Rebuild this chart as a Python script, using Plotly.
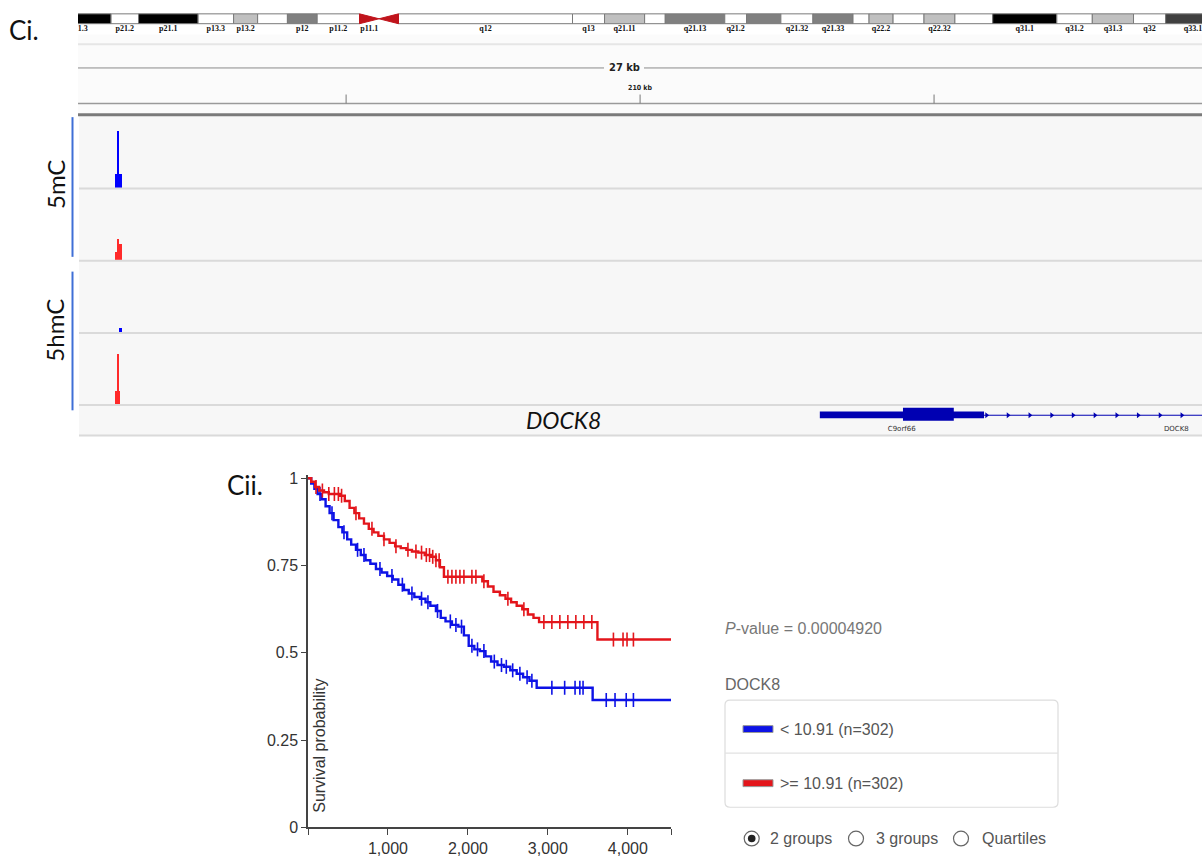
import numpy as np
import plotly.graph_objects as go

W, H = 1202, 863


def px(x):
    return x / W


def py(y):
    return 1 - y / H


# ---------------- Data ----------------
# Chromosome 9 ideogram bands (Mb)
band_names = ['p21.3', 'p21.2', 'p21.1', 'p13.3', 'p13.2', 'p13.1', 'p12', 'p11.2', 'p11.1', 'q11',
              'q12', 'q13', 'q21.11', 'q21.12', 'q21.13', 'q21.2', 'q21.31', 'q21.32', 'q21.33',
              'q22.1', 'q22.2', 'q22.31', 'q22.32', 'q22.33', 'q31.1', 'q31.2', 'q31.3', 'q32', 'q33.1']
band_start = [19.9, 25.6, 28.0, 33.2, 36.3, 38.4, 41.0, 43.6, 47.3, 49.0,
              50.7, 65.9, 68.7, 72.2, 74.0, 79.2, 81.1, 84.1, 86.9,
              90.4, 91.8, 93.9, 96.6, 99.3, 102.6, 108.2, 111.3, 114.9, 117.7]
band_end = [25.6, 28.0, 33.2, 36.3, 38.4, 41.0, 43.6, 47.3, 49.0, 50.7,
            65.9, 68.7, 72.2, 74.0, 79.2, 81.1, 84.1, 86.9, 90.4,
            91.8, 93.9, 96.6, 99.3, 102.6, 108.2, 111.3, 114.9, 117.7, 122.5]
band_stain = ['gpos100', 'gneg', 'gpos100', 'gneg', 'gpos25', 'gneg', 'gpos50', 'gneg', 'acen', 'acen',
              'gvar', 'gneg', 'gpos25', 'gneg', 'gpos50', 'gneg', 'gpos50', 'gneg', 'gpos50',
              'gneg', 'gpos25', 'gneg', 'gpos25', 'gneg', 'gpos100', 'gneg', 'gpos25', 'gneg', 'gpos75']
band_label_shown = [1, 1, 1, 1, 1, 0, 1, 1, 1, 0,
                    1, 1, 1, 0, 1, 1, 0, 1, 1,
                    0, 1, 0, 1, 0, 1, 1, 1, 1, 1]
ideogram_view_mb = [22.71, 120.88]

# Genome browser window (kb)
window_kb = [196.64, 223.38]
ruler_ticks_kb = [203, 210, 217]
ruler_span_label = '27 kb'
ruler_tick_label = '210 kb'

# Methylation signal tracks (position kb, signal)
mc5_low_pos = [197.521, 197.545, 197.569, 197.593, 197.617, 197.640]
mc5_low_val = [1.9, 1.9, 7.9, 1.8, 1.9, 1.9]
mc5_high_pos = [197.521, 197.545, 197.569, 197.593, 197.617, 197.640]
mc5_high_val = [1.2, 1.2, 3.0, 0.4, 2.3, 2.3]
hmc5_low_pos = [197.617, 197.640]
hmc5_low_val = [0.7, 0.7]
hmc5_high_pos = [197.521, 197.545, 197.569, 197.593]
hmc5_high_val = [1.8, 1.8, 7.1, 1.8]

# Gene models (kb)
gene_labels = ['C9orf66', 'DOCK8']
gene_label_pos = [216.23, 222.77]
exon_start = [214.28]
exon_end = [218.19]
cds_start = [216.26]
cds_end = [217.47]
intron_start = [218.19]
intron_end = [223.38]
strand_arrow_pos = [218.25, 218.76, 219.28, 219.80, 220.31, 220.83, 221.35, 221.86, 222.38, 222.90]

# Kaplan-Meier curves (days, survival probability)
low_t = [0, 40, 80, 120, 170, 220, 270, 320, 380, 430, 490, 540, 600, 660, 720, 780, 850, 920,
         990, 1060, 1130, 1200, 1260, 1330, 1400, 1470, 1530, 1600, 1660, 1720, 1800, 1880, 1950,
         2010, 2080, 2150, 2220, 2290, 2370, 2450, 2530, 2610, 2690, 2770, 2860, 3560, 4540]
low_s = [1.0, 0.985, 0.97, 0.955, 0.94, 0.92, 0.9, 0.88, 0.86, 0.845, 0.825, 0.81, 0.795, 0.78,
         0.765, 0.755, 0.74, 0.73, 0.72, 0.71, 0.695, 0.68, 0.67, 0.66, 0.655, 0.645, 0.635, 0.62,
         0.6, 0.59, 0.58, 0.575, 0.55, 0.52, 0.51, 0.505, 0.49, 0.475, 0.465, 0.46, 0.45, 0.44,
         0.43, 0.42, 0.40, 0.365, 0.365]
high_t = [0, 40, 90, 140, 200, 260, 330, 400, 460, 520, 580, 640, 700, 760, 820, 880, 950, 1020,
          1090, 1160, 1230, 1300, 1380, 1460, 1540, 1600, 1650, 1700, 2180, 2250, 2320, 2400, 2470,
          2540, 2610, 2680, 2750, 2820, 2890, 3620, 4540]
high_s = [1.0, 0.99, 0.975, 0.965, 0.96, 0.955, 0.955, 0.95, 0.935, 0.915, 0.9, 0.885, 0.87,
          0.855, 0.845, 0.835, 0.825, 0.815, 0.805, 0.8, 0.795, 0.79, 0.787, 0.78, 0.775, 0.765,
          0.745, 0.718, 0.705, 0.69, 0.675, 0.665, 0.655, 0.645, 0.635, 0.625, 0.61, 0.6, 0.588,
          0.538, 0.538]
low_cens = [150, 300, 450, 620, 700, 900, 1050, 1180, 1300, 1420, 1500, 1620, 1780, 1850, 1920,
            2050, 2120, 2200, 2330, 2420, 2480, 2560, 2650, 2740, 2800, 3050, 3210, 3340, 3400,
            3440, 3730, 3840, 3980, 4070]
high_cens = [100, 180, 260, 330, 380, 420, 600, 800, 950, 1100, 1250, 1350, 1420, 1480, 1520,
             1560, 1600, 1640, 1750, 1800, 1850, 1900, 1950, 2050, 2100, 2200, 2500, 2700, 2950,
             3050, 3150, 3250, 3350, 3450, 3550, 3820, 3940, 3990, 4070]
km_xticks = [0, 1000, 2000, 3000, 4000, 4540]
km_xticktext = ['', '1,000', '2,000', '3,000', '4,000', '']
km_yticks = [0, 0.25, 0.5, 0.75, 1]
km_yticktext = ['0', '0.25', '0.5', '0.75', '1']
group_names = ['< 10.91 (n=302)', '>= 10.91 (n=302)']
p_value_text = '<i>P</i>-value = 0.00004920'
gene_name = 'DOCK8'
radio_labels = ['2 groups', '3 groups', 'Quartiles']

BLUE = '#0d12e6'
RED = '#e3151b'
SANS = 'Liberation Sans, Arial, sans-serif'
CAL = 'Lato, Open Sans, sans-serif'

fig = go.Figure()
shapes = []
ann = []


def note(x, y, text, size, color='#111', family=SANS, xanchor='center', angle=0, xref='paper'):
    ann.append(dict(xref=xref, yref='paper', x=x, y=y, text=text, showarrow=False,
                    xanchor=xanchor, yanchor='middle', textangle=angle,
                    font=dict(family=family, size=size, color=color)))


# ---------------- IGV panel ----------------
track_x_dom = [px(79), 1.0]
shapes.append(dict(type='rect', xref='paper', yref='paper', x0=px(78), x1=1, y0=py(110), y1=py(30),
                   fillcolor='#fbfbfb', line=dict(width=0), layer='below'))
shapes.append(dict(type='rect', xref='paper', yref='paper', x0=px(79), x1=1, y0=py(438), y1=py(112),
                   fillcolor='#f7f7f7', line=dict(width=0), layer='below'))
shapes.append(dict(type='line', xref='paper', yref='paper', x0=px(78), x1=1, y0=py(40), y1=py(40),
                   line=dict(color='#e6e6e6', width=2)))
shapes.append(dict(type='line', xref='paper', yref='paper', x0=px(78), x1=px(604), y0=py(64), y1=py(64),
                   line=dict(color='#8a8a8a', width=1)))
shapes.append(dict(type='line', xref='paper', yref='paper', x0=px(644), x1=1, y0=py(64), y1=py(64),
                   line=dict(color='#8a8a8a', width=1)))
note(px(624), py(64), '<b>' + ruler_span_label + '</b>', 11, '#222', 'DejaVu Sans Condensed, DejaVu Sans')
shapes.append(dict(type='line', xref='paper', yref='paper', x0=px(78), x1=1, y0=py(100), y1=py(100),
                   line=dict(color='#9a9a9a', width=1.5)))
for tk in ruler_ticks_kb:
    shapes.append(dict(type='line', xref='x2', yref='paper', x0=tk, x1=tk, y0=py(100), y1=py(91),
                       line=dict(color='#777', width=1)))
note(ruler_ticks_kb[1], py(84), '<b>' + ruler_tick_label + '</b>', 7, '#222',
     'DejaVu Sans Condensed, DejaVu Sans', xref='x2')
shapes.append(dict(type='line', xref='paper', yref='paper', x0=px(78), x1=1, y0=py(111.5), y1=py(111.5),
                   line=dict(color='#7a7a7a', width=3)))
for yy in [186.5, 260, 333.5, 406.5, 437.5]:
    shapes.append(dict(type='line', xref='paper', yref='paper', x0=px(79), x1=1, y0=py(yy), y1=py(yy),
                       line=dict(color='#dadada', width=2)))
for y0, y1 in [(114, 256), (271, 412)]:
    shapes.append(dict(type='line', xref='paper', yref='paper', x0=px(72.5), x1=px(72.5), y0=py(y0), y1=py(y1),
                       line=dict(color='#3f6fd6', width=2)))
note(px(55), py(183), '5mC', 24, '#111', CAL, angle=-90)
note(px(55), py(331), '5hmC', 24, '#111', CAL, angle=-90)
note(px(24), py(25), 'Ci.', 26, '#111', CAL)
note(px(245), py(488), 'Cii.', 26, '#111', CAL)

# ideogram (axis 7)
stain_color = {'gneg': '#ffffff', 'gvar': '#ffffff', 'gpos25': '#c0c0c0', 'gpos50': '#808080',
               'gpos75': '#404040', 'gpos100': '#000000', 'acen': '#c0141c'}
b0, b1 = 0.458, 0.875
for s, e, st in zip(band_start, band_end, band_stain):
    if st == 'acen':
        continue
    shapes.append(dict(type='rect', xref='x7', yref='y7', x0=s, x1=e, y0=b0, y1=b1,
                       fillcolor=stain_color[st], line=dict(color='#7a7a7a', width=1)))
acen = [(s, e) for s, e, st in zip(band_start, band_end, band_stain) if st == 'acen']
mid = (b0 + b1) / 2
(ps, pe), (qs, qe) = acen
shapes.append(dict(type='path', xref='x7', yref='y7', path=f'M {ps},{b0} L {pe},{mid} L {ps},{b1} Z',
                   fillcolor='#c0141c', line=dict(color='#c0141c', width=1)))
shapes.append(dict(type='path', xref='x7', yref='y7', path=f'M {qe},{b0} L {qs},{mid} L {qe},{b1} Z',
                   fillcolor='#c0141c', line=dict(color='#c0141c', width=1)))
lab_x = [(s + e) / 2 for s, e, k in zip(band_start, band_end, band_label_shown) if k]
lab_t = ['<b>' + n + '</b>' for n, k in zip(band_names, band_label_shown) if k]
fig.add_trace(go.Scatter(x=lab_x, y=[0.25] * len(lab_x), text=lab_t, mode='text', xaxis='x7', yaxis='y7',
                         textfont=dict(family='Liberation Serif, serif', size=8, color='#111'),
                         cliponaxis=True, hoverinfo='skip', showlegend=False))

# methylation tracks (axes 2-5)
tracks = [(mc5_low_pos, mc5_low_val, '#0000ff', 113, 186),
          (mc5_high_pos, mc5_high_val, '#ff2a2a', 188, 259.5),
          (hmc5_low_pos, hmc5_low_val, '#0000ff', 261, 332.7),
          (hmc5_high_pos, hmc5_high_val, '#ff2a2a', 334.5, 405.7)]
bw = (window_kb[1] - window_kb[0]) / (W - 79)
for i, (pos, val, col, top, bot) in enumerate(tracks):
    k = i + 2
    fig.add_trace(go.Bar(x=pos, y=val, width=bw, marker=dict(color=col, line=dict(width=0)),
                         xaxis=f'x{k}', yaxis=f'y{k}', showlegend=False, hoverinfo='skip'))

# gene track (axis 6)
for s, e in zip(intron_start, intron_end):
    shapes.append(dict(type='line', xref='x6', yref='y6', x0=s, x1=e, y0=0.645, y1=0.645,
                       line=dict(color='#0000b2', width=1)))
for s, e in zip(exon_start, exon_end):
    shapes.append(dict(type='rect', xref='x6', yref='y6', x0=s, x1=e, y0=0.548, y1=0.765,
                       fillcolor='#0000b2', line=dict(width=0)))
for s, e in zip(cds_start, cds_end):
    shapes.append(dict(type='rect', xref='x6', yref='y6', x0=s, x1=e, y0=0.461, y1=0.894,
                       fillcolor='#0000b2', line=dict(width=0)))
fig.add_trace(go.Scatter(x=strand_arrow_pos, y=[0.645] * len(strand_arrow_pos), mode='markers',
                         marker=dict(symbol='triangle-right', size=5, color='#0000b2'),
                         xaxis='x6', yaxis='y6', showlegend=False, hoverinfo='skip'))
fig.add_trace(go.Scatter(x=gene_label_pos, y=[0.17] * 2, text=gene_labels, mode='text',
                         textfont=dict(family='DejaVu Sans', size=7, color='#333'),
                         xaxis='x6', yaxis='y6', showlegend=False, hoverinfo='skip', cliponaxis=False))
note(px(563), py(422), '<i>' + gene_name + '</i>', 23, '#111', CAL)


# ---------------- Kaplan-Meier ----------------
def surv_at(ts, ss, t):
    ts = np.asarray(ts)
    idx = np.searchsorted(ts, t, side='right') - 1
    return np.asarray(ss)[idx]


for t, s, cens, col, nm in [(low_t, low_s, low_cens, BLUE, group_names[0]),
                            (high_t, high_s, high_cens, RED, group_names[1])]:
    fig.add_trace(go.Scatter(x=t, y=s, mode='lines', line=dict(color=col, width=2.4, shape='hv'),
                             name=nm, showlegend=False, xaxis='x', yaxis='y'))
    fig.add_trace(go.Scatter(x=cens, y=surv_at(t, s, cens), mode='markers',
                             marker=dict(symbol='line-ns', size=10, line=dict(color=col, width=1.6)),
                             showlegend=False, xaxis='x', yaxis='y', hoverinfo='skip'))

note(px(320), py(753), 'Survival probability', 16, '#333', angle=-90)
note(px(723), py(634), p_value_text, 16, '#777', xanchor='left')
note(px(723), py(691), gene_name, 16, '#666', xanchor='left')

# legend box (rounded)
lx0, lx1, ly0, ly1, r = 725, 1058, 706.5, 815.5, 5
path = (f'M {px(lx0 + r)},{py(ly0)} L {px(lx1 - r)},{py(ly0)} Q {px(lx1)},{py(ly0)} {px(lx1)},{py(ly0 + r)} '
        f'L {px(lx1)},{py(ly1 - r)} Q {px(lx1)},{py(ly1)} {px(lx1 - r)},{py(ly1)} '
        f'L {px(lx0 + r)},{py(ly1)} Q {px(lx0)},{py(ly1)} {px(lx0)},{py(ly1 - r)} '
        f'L {px(lx0)},{py(ly0 + r)} Q {px(lx0)},{py(ly0)} {px(lx0 + r)},{py(ly0)} Z')
shapes.append(dict(type='path', xref='paper', yref='paper', path=path, fillcolor='white',
                   line=dict(color='#dddddd', width=1.2)))
shapes.append(dict(type='line', xref='paper', yref='paper', x0=px(lx0), x1=px(lx1), y0=py(760.5), y1=py(760.5),
                   line=dict(color='#e2e2e2', width=1.2)))
for yc, col, nm in [(736, BLUE, group_names[0]), (791, RED, group_names[1])]:
    shapes.append(dict(type='rect', xref='paper', yref='paper', x0=px(743), x1=px(773), y0=py(yc + 3.5),
                       y1=py(yc - 3.5), fillcolor=col, line=dict(color='#999', width=1)))
    note(px(778), py(yc), nm, 16, '#555', xanchor='left')

# radio buttons
for i, (cx, tx, lab) in enumerate(zip([751.7, 856, 961], [768, 874, 980], radio_labels)):
    shapes.append(dict(type='circle', xref='paper', yref='paper', x0=px(cx - 7.5), x1=px(cx + 7.5),
                       y0=py(847.3 + 7.5), y1=py(847.3 - 7.5), fillcolor='white',
                       line=dict(color='#666', width=1.2)))
    if i == 0:
        shapes.append(dict(type='circle', xref='paper', yref='paper', x0=px(cx - 3.8), x1=px(cx + 3.8),
                           y0=py(847.3 + 3.8), y1=py(847.3 - 3.8), fillcolor='#222', line=dict(width=0)))
    note(px(tx), py(847), lab, 16, '#555', xanchor='left')

# ---------------- Layout ----------------
hidden = dict(visible=False, showgrid=False, zeroline=False, fixedrange=True)
layout_axes = {}
for i, (pos, val, col, top, bot) in enumerate(tracks):
    k = i + 2
    layout_axes[f'xaxis{k}'] = dict(hidden, domain=track_x_dom, range=window_kb, anchor=f'y{k}')
    layout_axes[f'yaxis{k}'] = dict(hidden, domain=[py(bot), py(top)], range=[0, 10], anchor=f'x{k}')
layout_axes['xaxis6'] = dict(hidden, domain=track_x_dom, range=window_kb, anchor='y6')
layout_axes['yaxis6'] = dict(hidden, domain=[py(437), py(406)], range=[0, 1], anchor='x6')
layout_axes['xaxis7'] = dict(hidden, domain=[px(78), 1.0], range=ideogram_view_mb, anchor='y7')
layout_axes['yaxis7'] = dict(hidden, domain=[py(30), py(6)], range=[0, 1], anchor='x7')

fig.update_layout(
    width=W, height=H, margin=dict(l=0, r=0, t=0, b=0),
    paper_bgcolor='white', plot_bgcolor='rgba(0,0,0,0)', showlegend=False, bargap=0,
    xaxis=dict(domain=[px(308), px(671)], range=[0, 4540], showgrid=False, zeroline=False,
               showline=True, linecolor='#444', linewidth=1.5, ticks='outside', ticklen=6,
               tickcolor='#444', tickvals=km_xticks, ticktext=km_xticktext,
               tickfont=dict(family=SANS, size=16, color='#333'), anchor='y'),
    yaxis=dict(domain=[py(836), py(477.5)], range=[0, 1.01], showgrid=False, zeroline=False,
               showline=True, linecolor='#444', linewidth=1.5, ticks='outside', ticklen=5,
               tickcolor='#444', tickvals=km_yticks, ticktext=km_yticktext,
               tickfont=dict(family=SANS, size=16, color='#333'), anchor='x'),
    shapes=shapes, annotations=ann, **layout_axes)

fig.write_html('out.html')
